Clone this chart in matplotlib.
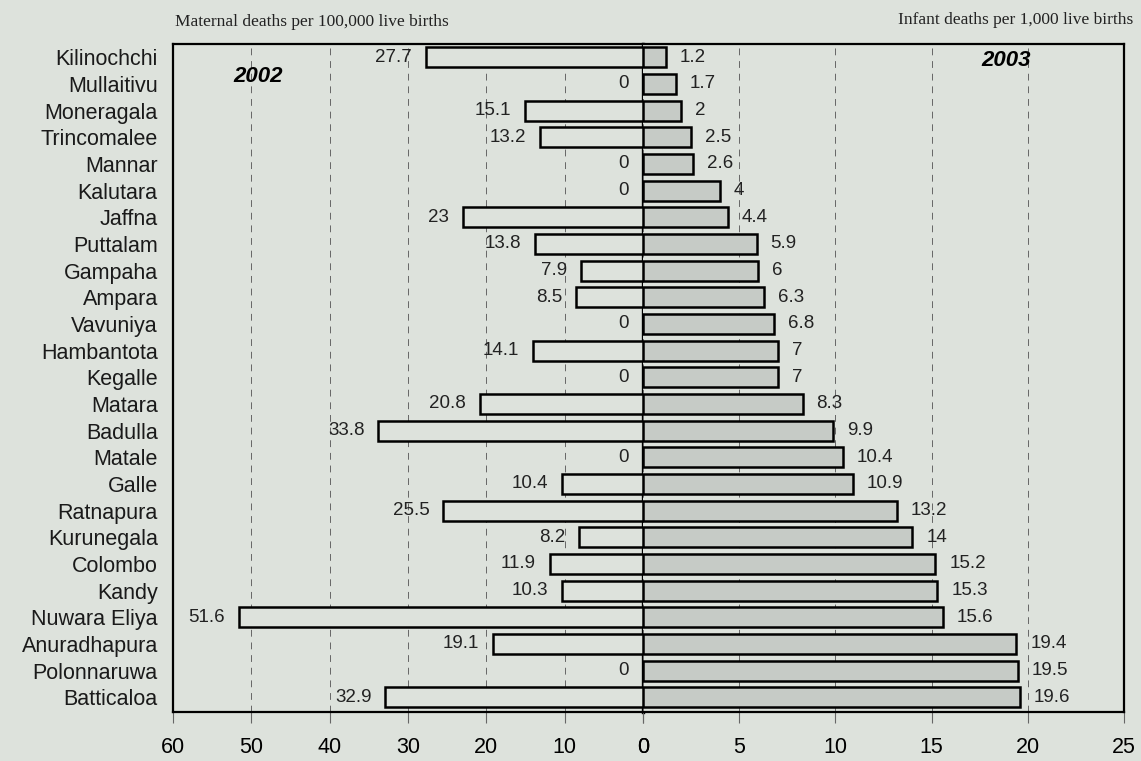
import numpy as np
import matplotlib
matplotlib.use("Agg")
import matplotlib.pyplot as plt

# district rows, top to bottom
districts = ["Kilinochchi", "Mullaitivu", "Moneragala", "Trincomalee", "Mannar",
             "Kalutara", "Jaffna", "Puttalam", "Gampaha", "Ampara", "Vavuniya",
             "Hambantota", "Kegalle", "Matara", "Badulla", "Matale", "Galle",
             "Ratnapura", "Kurunegala", "Colombo", "Kandy", "Nuwara Eliya",
             "Anuradhapura", "Polonnaruwa", "Batticaloa"]
# maternal deaths per 100,000 live births (2002)
maternal = [27.7, 0, 15.1, 13.2, 0, 0, 23, 13.8, 7.9, 8.5, 0, 14.1, 0, 20.8,
            33.8, 0, 10.4, 25.5, 8.2, 11.9, 10.3, 51.6, 19.1, 0, 32.9]
# infant deaths per 1,000 live births (2003)
infant = [1.2, 1.7, 2, 2.5, 2.6, 4, 4.4, 5.9, 6, 6.3, 6.8, 7, 7, 8.3, 9.9,
          10.4, 10.9, 13.2, 14, 15.2, 15.3, 15.6, 19.4, 19.5, 19.6]
left_ticks = [60, 50, 40, 30, 20, 10, 0]
right_ticks = [0, 5, 10, 15, 20, 25]

bg = "#dde2dc"
W, H = 1141, 761
fig = plt.figure(figsize=(W / 100, H / 100), dpi=100, facecolor=bg)

x0, xz, x1 = 173, 643, 1124
ytop, ybot = 44, 712
b = 1 - ybot / H
h = (ybot - ytop) / H
axL = fig.add_axes([x0 / W, b, (xz - x0) / W, h], facecolor=bg)
axR = fig.add_axes([xz / W, b, (x1 - xz) / W, h], facecolor=bg)

y = np.arange(len(districts))
bar_h = 0.74
sans = "Liberation Sans"

axL.barh(y, maternal, height=bar_h, color=bg, edgecolor="black", linewidth=1.8, zorder=3)
axR.barh(y, infant, height=bar_h, color="#c6cbc6", edgecolor="black", linewidth=1.8, zorder=3)

for yi, v in zip(y, maternal):
    axL.annotate(f"{v:g}", (v, yi), xytext=(-10, 0), textcoords="offset points",
                 ha="right", va="center", fontsize=13.5, family=sans, color="#222222")
for yi, v in zip(y, infant):
    axR.annotate(f"{v:g}", (v, yi), xytext=(10, 0), textcoords="offset points",
                 ha="left", va="center", fontsize=13.5, family=sans, color="#222222")

axL.set_xlim(60, 0)
axR.set_xlim(0, 25)
axL.set_xticks(left_ticks)
axR.set_xticks(right_ticks)
for ax in (axL, axR):
    ax.set_ylim(len(districts) - 0.45, -0.5)
    ax.tick_params(axis="x", direction="out", length=8, width=0.8, color="#666666",
                   labelsize=15.5, pad=10)
    for lbl in ax.get_xticklabels():
        lbl.set_family(sans)
    ax.grid(axis="x", linestyle=(0, (7, 6)), color="#666666", linewidth=0.7, zorder=1)
    for s in ax.spines.values():
        s.set_linewidth(1.6)

axL.set_yticks(y)
axL.set_yticklabels(districts, fontsize=15.5, family=sans, color="#1a1a1a")
axL.tick_params(axis="y", length=0, pad=11)
axL.spines["right"].set_linewidth(2.4)
axR.spines["left"].set_visible(False)
axR.set_yticks([])

axL.text(0.181, 0.952, "2002", transform=axL.transAxes, ha="center", va="center",
         fontsize=16, fontweight="bold", fontstyle="italic", family=sans)
axR.text(0.755, 0.976, "2003", transform=axR.transAxes, ha="center", va="center",
         fontsize=16, fontweight="bold", fontstyle="italic", family=sans)

fig.text(175 / W, 1 - 22 / H, "Maternal deaths per 100,000 live births", ha="left",
         va="center", fontsize=12.5, family="Liberation Serif", color="#222222")
fig.text(1133 / W, 1 - 20 / H, "Infant deaths per 1,000 live births", ha="right",
         va="center", fontsize=12.5, family="Liberation Serif", color="#222222")

fig.savefig("out.png", dpi=100, facecolor=bg)
